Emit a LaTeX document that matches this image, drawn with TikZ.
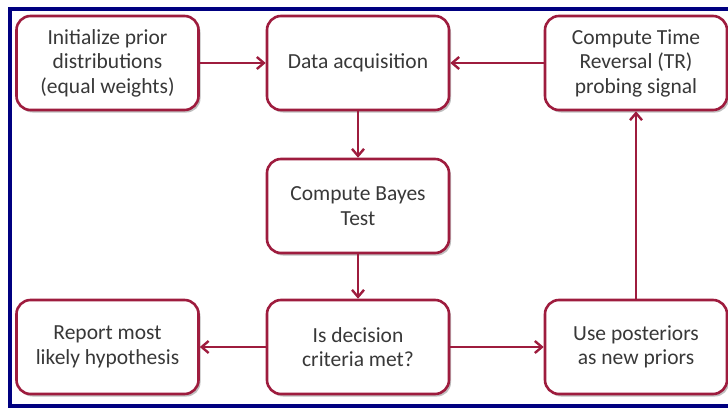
\documentclass[tikz,border=0pt]{standalone}
\usepackage{fontspec}
\setmainfont{Carlito}
\usetikzlibrary{arrows.meta,shadows}
\definecolor{boxred}{RGB}{158,28,62}
\definecolor{frameblue}{RGB}{0,0,128}
\definecolor{txt}{RGB}{56,56,56}
\begin{document}
\begin{tikzpicture}[x=1pt,y=-1pt,
  stepbox/.style={draw=boxred, line width=2.6pt, fill=white, rounded corners=14pt,
    minimum width=182pt, minimum height=94pt, align=center, text=txt,
    font=\fontsize{21.5}{24.5}\selectfont,
    drop shadow={shadow xshift=2pt, shadow yshift=-2.5pt, opacity=0.25, fill=black}},
  link/.style={draw=boxred, line width=2.6pt, -{Straight Barb[length=7pt,width=12pt,line width=2.4pt]}}]
\useasboundingbox (0,0) rectangle (728,407);
% outer frame, open at the right
\begin{scope}
\clip (0,0) rectangle (728,407);
\draw[frameblue, line width=4pt] (740,9) -- (10,9) -- (10,405.5) -- (740,405.5);
\end{scope}
% process steps
\node[stepbox] (init) at (107.5,63) {Initialize prior\\distributions\\(equal weights)};
\node[stepbox] (data) at (358,63) {Data acquisition};
\node[stepbox] (tr)   at (636,63) {Compute Time\\Reversal (TR)\\probing signal};
\node[stepbox] (bayes) at (358,206) {Compute Bayes\\Test};
\node[stepbox] (report) at (107.5,347) {Report most\\likely hypothesis};
\node[stepbox] (crit) at (358,347) {Is decision\\criteria met?};
\node[stepbox] (post) at (636,347) {Use posteriors\\as new priors};
% connectors
\draw[link] (init) -- (data);
\draw[link] (tr) -- (data);
\draw[link] (data) -- (bayes);
\draw[link] (bayes) -- (crit);
\draw[link] (crit) -- (report);
\draw[link] (crit) -- (post);
\draw[link] (post) -- (tr);
\end{tikzpicture}
\end{document}
